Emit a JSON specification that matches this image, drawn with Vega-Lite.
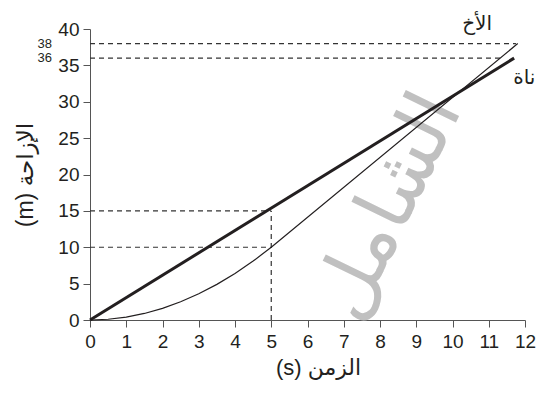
{
  "$schema": "https://vega.github.io/schema/vega-lite/v6.json",
  "autosize": "none",
  "width": 435,
  "height": 291,
  "padding": {"left": 90, "top": 29, "right": 12, "bottom": 74},
  "background": "white",
  "config": {"view": {"stroke": null}, "font": "Liberation Sans, DejaVu Sans"},
  "datasets": {
    "curves": [
      {"series": "thick", "t": 0, "d": 0},
      {"series": "thick", "t": 11.7, "d": 36},
      {"series": "thin", "t": 0, "d": 0},
      {"series": "thin", "t": 0.5, "d": 0.1},
      {"series": "thin", "t": 1, "d": 0.4},
      {"series": "thin", "t": 1.5, "d": 0.9},
      {"series": "thin", "t": 2, "d": 1.6},
      {"series": "thin", "t": 2.5, "d": 2.5},
      {"series": "thin", "t": 3, "d": 3.6},
      {"series": "thin", "t": 3.5, "d": 4.9},
      {"series": "thin", "t": 4, "d": 6.4},
      {"series": "thin", "t": 4.5, "d": 8.1},
      {"series": "thin", "t": 5, "d": 10},
      {"series": "thin", "t": 11.8, "d": 38}
    ],
    "guides": [
      {"t": 0, "d": 38, "t2": 11.75, "d2": 38},
      {"t": 0, "d": 36, "t2": 11.4, "d2": 36},
      {"t": 0, "d": 15, "t2": 5, "d2": 15},
      {"t": 0, "d": 10, "t2": 5, "d2": 10},
      {"t": 5, "d": 0, "t2": 5, "d2": 15}
    ],
    "small": [
      {"t": -1.05, "d": 38, "label": "38"},
      {"t": -1.05, "d": 36, "label": "36"}
    ],
    "names": [
      {"t": 10.68, "d": 40.7, "label": "الأخ"},
      {"t": 11.98, "d": 33.2, "label": "ناة"}
    ],
    "mark": [
      {"t": 8.25, "d": 15.5, "label": "الشامل"}
    ]
  },
  "encoding": {
    "x": {
      "field": "t", "type": "quantitative",
      "scale": {"domain": [0, 12], "nice": false},
      "axis": {
        "values": [0,1,2,3,4,5,6,7,8,9,10,11,12],
        "labelOverlap": false,
        "title": "(s) الزمن",
        "titleFontSize": 22, "titleFontWeight": "normal", "titleColor": "#231f20",
        "titlePadding": 6, "titleX": 228,
        "labelFontSize": 19, "labelColor": "#231f20", "labelPadding": 5,
        "tickSize": 7, "tickColor": "#555555", "domainColor": "#555555",
        "grid": false, "labelFlush": false
      }
    },
    "y": {
      "field": "d", "type": "quantitative",
      "scale": {"domain": [0, 40], "nice": false},
      "axis": {
        "values": [0,5,10,15,20,25,30,35,40],
        "labelOverlap": false,
        "title": "(m) الإزاحة",
        "titleFontSize": 23, "titleFontWeight": "normal", "titleColor": "#231f20",
        "titlePadding": 20,
        "labelFontSize": 19, "labelColor": "#231f20", "labelPadding": 4,
        "tickSize": 7, "tickColor": "#555555", "domainColor": "#555555",
        "grid": false, "labelFlush": false
      }
    }
  },
  "layer": [
    {
      "data": {"name": "mark"},
      "mark": {"type": "text", "fontSize": 78, "color": "#c0c0c0", "angle": -64, "align": "center", "baseline": "middle", "font": "DejaVu Sans"},
      "encoding": {
        "text": {"field": "label"}
      }
    },
    {
      "data": {"name": "guides"},
      "mark": {"type": "rule", "strokeDash": [5, 4], "strokeWidth": 1.2, "color": "#333333"},
      "encoding": {
        "x2": {"field": "t2"},
        "y2": {"field": "d2"}
      }
    },
    {
      "data": {"name": "curves"},
      "mark": {"type": "line", "color": "#231f20", "clip": false},
      "encoding": {
        "strokeWidth": {
          "field": "series", "type": "nominal",
          "scale": {"domain": ["thick", "thin"], "range": [3, 1.2]},
          "legend": null
        },
        "detail": {"field": "series"}
      }
    },
    {
      "data": {"name": "small"},
      "mark": {"type": "text", "fontSize": 13, "color": "#231f20", "align": "right", "baseline": "middle"},
      "encoding": {
        "text": {"field": "label"}
      }
    },
    {
      "data": {"name": "names"},
      "mark": {"type": "text", "fontSize": 20, "color": "#231f20", "align": "center", "baseline": "middle", "font": "DejaVu Sans"},
      "encoding": {
        "text": {"field": "label"}
      }
    }
  ]
}
